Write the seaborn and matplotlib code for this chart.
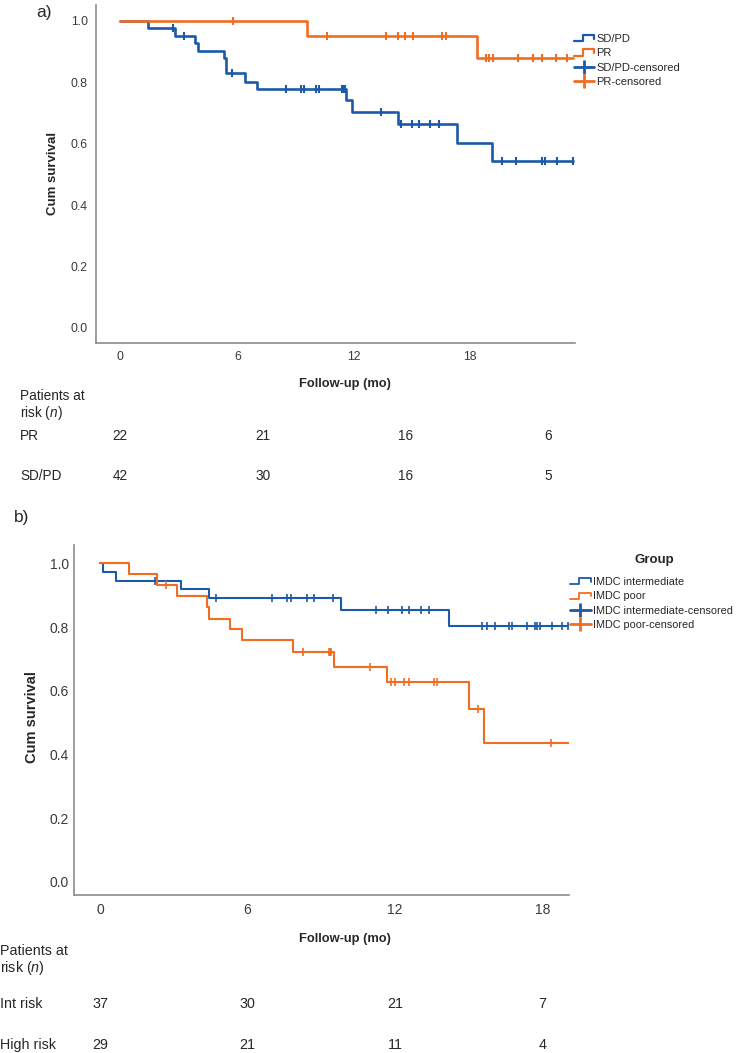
import numpy as np
import pandas as pd
import matplotlib
matplotlib.use("Agg")
import matplotlib.pyplot as plt
from matplotlib import transforms
from matplotlib.lines import Line2D
from matplotlib.legend_handler import HandlerBase
import seaborn as sns

sns.set_theme(style="white")
plt.rcParams["font.family"] = ["Liberation Sans", "DejaVu Sans"]
plt.rcParams["mathtext.fontset"] = "custom"
plt.rcParams["mathtext.it"] = "Liberation Sans:italic"
plt.rcParams["mathtext.rm"] = "Liberation Sans"

BLUE = "#1b5aa8"
ORANGE = "#f26c22"
W, H = 738, 1053

# %% data, panel a (response): step times (months) and survival after each step
A_GROUPS = ["SD/PD", "PR"]
A_SDPD_TIMES = [0, 1.16, 2.31, 3.15, 3.29, 4.38, 4.45, 5.25, 5.77, 9.50, 9.76, 11.67, 14.15, 15.62, 19.02]
A_SDPD_SURV = [1.0, 0.976, 0.952, 0.927, 0.902, 0.878, 0.829, 0.802, 0.777, 0.743, 0.703, 0.663, 0.604, 0.544, 0.544]
A_SDPD_CENS = [2.21, 2.69, 4.69, 6.97, 7.59, 7.73, 8.24, 8.35, 9.31, 9.35, 9.40, 9.45, 10.95, 11.79,
               12.25, 12.56, 13.03, 13.40, 16.06, 16.63, 17.72, 17.86, 18.35, 19.02]
A_PR_TIMES = [0, 7.84, 14.99, 19.02]
A_PR_SURV = [1.0, 0.952, 0.880, 0.880]
A_PR_CENS = [4.76, 8.71, 11.18, 11.69, 11.97, 12.32, 13.54, 13.68, 15.36, 15.50, 15.69,
             16.74, 17.37, 17.72, 18.31, 18.77]
A_TICK_POS = [0, 4.96, 9.83, 14.71]
A_TICK_LABELS = ["0", "6", "12", "18"]
A_RISK_ROWS = ["PR", "SD/PD"]
A_RISK_PR = [22, 21, 16, 6]
A_RISK_SDPD = [42, 30, 16, 5]

# %% data, panel b (IMDC group)
B_GROUPS = ["IMDC intermediate", "IMDC poor"]
B_INT_TIMES = [0, 0.13, 0.64, 3.28, 4.43, 9.78, 14.19, 19.04]
B_INT_SURV = [1.0, 0.973, 0.946, 0.919, 0.892, 0.855, 0.803, 0.803]
B_INT_CENS = [2.24, 4.72, 6.98, 7.59, 7.75, 8.40, 8.71, 9.46, 11.21, 11.72, 12.29, 12.57, 13.05, 13.39,
              15.54, 15.72, 16.08, 16.64, 16.76, 17.37, 17.68, 17.75, 17.89, 18.39, 18.77, 19.04]
B_POOR_TIMES = [0, 1.18, 2.33, 3.14, 4.36, 4.43, 5.28, 5.79, 7.83, 9.51, 11.68, 15.01, 15.62, 19.10]
B_POOR_SURV = [1.0, 0.966, 0.931, 0.897, 0.862, 0.827, 0.793, 0.758, 0.722, 0.676, 0.629, 0.542, 0.437, 0.437]
B_POOR_CENS = [2.67, 8.24, 9.32, 9.35, 9.38, 10.98, 11.83, 11.99, 12.36, 12.56, 13.58, 13.71, 15.38, 18.32]
B_TICK_POS = [0, 6, 12, 18]
B_TICK_LABELS = ["0", "6", "12", "18"]
B_RISK_ROWS = ["Int risk", "High risk"]
B_RISK_INT = [37, 30, 21, 7]
B_RISK_HIGH = [29, 21, 11, 4]

RISK_TIMES = [0, 6, 12, 18]
Y_TICKS = [0.0, 0.2, 0.4, 0.6, 0.8, 1.0]


def fx(x):
    return x / W


def fy(y):
    return 1 - y / H


class StepHandler(HandlerBase):
    def create_artists(self, legend, orig_handle, xdescent, ydescent, width, height, fontsize, trans):
        xs = np.array([0, 0.45, 0.45, 1.0, 1.0]) * width - xdescent
        ys = np.array([0.1, 0.1, 0.9, 0.9, 0.45]) * height - ydescent
        line = Line2D(xs, ys, color=orig_handle.get_color(), lw=orig_handle.get_linewidth())
        line.set_transform(trans)
        return [line]


def draw_km(ax, groups, times, survs, cens, colors, lw, ms, mew):
    rows, crows = [], []
    for g, t, s, c in zip(groups, times, survs, cens):
        for ti, si in zip(t, s):
            rows.append((g, ti, si))
        t_arr = np.array(t)
        for ci in c:
            level = s[np.searchsorted(t_arr, ci, side="right") - 1]
            crows.append((g, ci, level))
    df = pd.DataFrame(rows, columns=["group", "time", "surv"])
    cdf = pd.DataFrame(crows, columns=["group", "time", "surv"])
    pal = dict(zip(groups, colors))
    for g in groups:
        sns.lineplot(data=df[df["group"] == g], x="time", y="surv", color=pal[g],
                     estimator=None, sort=False, drawstyle="steps-post",
                     linewidth=lw, legend=False, ax=ax)
        sns.scatterplot(data=cdf[cdf["group"] == g], x="time", y="surv", color=pal[g],
                        marker="|", s=ms ** 2, linewidth=mew, legend=False, ax=ax, zorder=3)


def style_ax(ax, xlim, ylim, xticks, xlabels, fs, xpad, ypad):
    ax.set_xlim(*xlim)
    ax.set_ylim(*ylim)
    ax.set_xticks(xticks)
    ax.set_xticklabels(xlabels)
    ax.set_yticks(Y_TICKS)
    ax.set_yticklabels([f"{v:.1f}" for v in Y_TICKS])
    ax.tick_params(length=0, labelsize=fs, colors="#3a3a3a")
    ax.tick_params(axis="x", pad=xpad)
    ax.tick_params(axis="y", pad=ypad)
    ax.set_xlabel("")
    ax.set_ylabel("")
    for side in ["top", "right"]:
        ax.spines[side].set_visible(False)
    for side in ["left", "bottom"]:
        ax.spines[side].set_color("#8c8c8c")
        ax.spines[side].set_linewidth(1.2)


fig = plt.figure(figsize=(W / 100, H / 100), dpi=100)

# %% panel a
ax_a = fig.add_axes([fx(96), fy(343), fx(575 - 96), (343 - 5) / H])
draw_km(ax_a, A_GROUPS, [A_SDPD_TIMES, A_PR_TIMES], [A_SDPD_SURV, A_PR_SURV],
        [A_SDPD_CENS, A_PR_CENS], [BLUE, ORANGE], lw=1.9, ms=6, mew=1.5)
style_ax(ax_a, (-1.01, 19.12), (-0.049, 1.052), A_TICK_POS, A_TICK_LABELS, 8.8, 6, 6)

hs = [Line2D([], [], color=BLUE, lw=1.6), Line2D([], [], color=ORANGE, lw=1.6),
      Line2D([], [], color=BLUE, lw=2, marker="|", markersize=10, mew=2),
      Line2D([], [], color=ORANGE, lw=2, marker="|", markersize=10, mew=2)]
ax_a.legend(hs, ["SD/PD", "PR", "SD/PD-censored", "PR-censored"],
            handler_map={hs[0]: StepHandler(), hs[1]: StepHandler()},
            loc="upper left", bbox_to_anchor=(fx(574), fy(34)), bbox_transform=fig.transFigure,
            frameon=False, fontsize=8, handlelength=1.8, handletextpad=0.2, labelspacing=0.39,
            borderpad=0, borderaxespad=0, numpoints=1)

fig.text(fx(44), fy(12), "a)", fontsize=12.5, ha="center", va="center")
fig.text(fx(53), fy(173), "Cum survival", fontsize=9.5, fontweight="bold", rotation=90,
         ha="center", va="center")
fig.text(fx(345), fy(384), "Follow-up (mo)", fontsize=9.3, fontweight="bold", ha="center", va="center")
fig.text(fx(20), fy(396), "Patients at", fontsize=9.8, ha="left", va="center")
fig.text(fx(20), fy(413), "risk ($\\mathit{n}$)", fontsize=9.8, ha="left", va="center")
trans_a = transforms.blended_transform_factory(ax_a.transData, fig.transFigure)
for label, vals, y in zip(A_RISK_ROWS, [A_RISK_PR, A_RISK_SDPD], [436, 476]):
    fig.text(fx(20), fy(y), label, fontsize=9.8, ha="left", va="center")
    for t, v in zip(RISK_TIMES, vals):
        ax_a.text(t, fy(y), str(v), transform=trans_a, fontsize=9.8, ha="center", va="center")

# %% panel b
ax_b = fig.add_axes([fx(74), fy(895), fx(569 - 74), (895 - 545) / H])
draw_km(ax_b, B_GROUPS, [B_INT_TIMES, B_POOR_TIMES], [B_INT_SURV, B_POOR_SURV],
        [B_INT_CENS, B_POOR_CENS], [BLUE, ORANGE], lw=1.5, ms=6, mew=1.2)
style_ax(ax_b, (-1.06, 19.07), (-0.042, 1.058), B_TICK_POS, B_TICK_LABELS, 10, 6, 3.5)

hs_b = [Line2D([], [], color=BLUE, lw=1.3), Line2D([], [], color=ORANGE, lw=1.3),
        Line2D([], [], color=BLUE, lw=2, marker="|", markersize=10, mew=2),
        Line2D([], [], color=ORANGE, lw=2, marker="|", markersize=10, mew=2)]
ax_b.legend(hs_b, ["IMDC intermediate", "IMDC poor", "IMDC intermediate-censored",
                   "IMDC poor-censored"],
            handler_map={hs_b[0]: StepHandler(), hs_b[1]: StepHandler()},
            loc="upper left", bbox_to_anchor=(fx(570), fy(577)), bbox_transform=fig.transFigure,
            frameon=False, fontsize=7.8, handlelength=1.9, handletextpad=0.2,
            labelspacing=0.40, borderpad=0, borderaxespad=0, numpoints=1)
fig.text(fx(654), fy(560), "Group", fontsize=9.5, fontweight="bold", ha="center", va="center")

fig.text(fx(22), fy(518), "b)", fontsize=12.5, ha="center", va="center")
fig.text(fx(32), fy(717), "Cum survival", fontsize=10.5, fontweight="bold", rotation=90,
         ha="center", va="center")
fig.text(fx(345), fy(939), "Follow-up (mo)", fontsize=9.3, fontweight="bold", ha="center", va="center")
fig.text(fx(0), fy(951), "Patients at", fontsize=10.3, ha="left", va="center")
fig.text(fx(0), fy(968), "risk ($\\mathit{n}$)", fontsize=10.3, ha="left", va="center")
trans_b = transforms.blended_transform_factory(ax_b.transData, fig.transFigure)
for label, vals, y in zip(B_RISK_ROWS, [B_RISK_INT, B_RISK_HIGH], [1004, 1045]):
    fig.text(fx(0), fy(y), label, fontsize=10.3, ha="left", va="center")
    for t, v in zip(RISK_TIMES, vals):
        ax_b.text(t, fy(y), str(v), transform=trans_b, fontsize=10.3, ha="center", va="center")

plt.savefig("out.png", dpi=100)
